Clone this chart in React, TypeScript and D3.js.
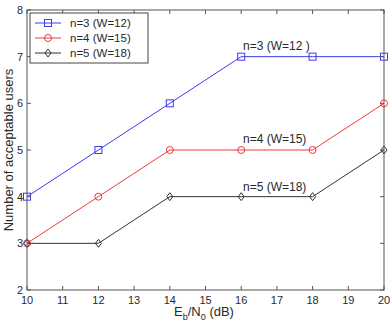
import React, { useEffect, useRef } from 'react';
import * as d3 from 'd3';

// Eb/N0 in dB, and the number of users each code supports
const snr = [10, 12, 14, 16, 18, 20];
const usersN3 = [4, 5, 6, 7, 7, 7];
const usersN4 = [3, 4, 5, 5, 5, 6];
const usersN5 = [3, 3, 4, 4, 4, 5];
const seriesNames = ['n=3 (W=12)', 'n=4 (W=15)', 'n=5 (W=18)'];
const inlineLabels = ['n=3 (W=12 )', 'n=4 (W=15)', 'n=5 (W=18)'];
const xTicks = [10, 11, 12, 13, 14, 15, 16, 17, 18, 19, 20];
const yTicks = [2, 3, 4, 5, 6, 7, 8];

const W = 392;
const H = 325;
const margin = { top: 10, right: 8, bottom: 35, left: 27 };

const seriesStyles = [
  { color: '#3a3af0', marker: 'square' },
  { color: '#f03a3a', marker: 'circle' },
  { color: '#333333', marker: 'diamond' },
];

const App: React.FC = () => {
  const svgRef = useRef<SVGSVGElement | null>(null);

  useEffect(() => {
    const svg = d3.select(svgRef.current);
    svg.selectAll('*').remove();

    const x = d3.scaleLinear().domain([10, 20]).range([margin.left, W - margin.right]);
    const y = d3.scaleLinear().domain([2, 8]).range([H - margin.bottom, margin.top]);
    const font = 'Liberation Sans, Arial, sans-serif';
    const textColor = '#2a2a2a';

    svg.append('rect').attr('width', W).attr('height', H).attr('fill', '#fff');

    const series = [usersN3, usersN4, usersN5];

    const drawMarker = (g: d3.Selection<SVGGElement, unknown, null, undefined>, kind: string, cx: number, cy: number, color: string) => {
      if (kind === 'square') {
        g.append('rect').attr('x', cx - 3.5).attr('y', cy - 3.5).attr('width', 7).attr('height', 7)
          .attr('fill', 'none').attr('stroke', color).attr('stroke-width', 1);
      } else if (kind === 'circle') {
        g.append('circle').attr('cx', cx).attr('cy', cy).attr('r', 3.5)
          .attr('fill', 'none').attr('stroke', color).attr('stroke-width', 1);
      } else {
        g.append('path')
          .attr('d', `M${cx},${cy - 4}L${cx + 3},${cy}L${cx},${cy + 4}L${cx - 3},${cy}Z`)
          .attr('fill', 'none').attr('stroke', color).attr('stroke-width', 1);
      }
    };

    // data lines and markers
    series.forEach((vals, si) => {
      const st = seriesStyles[si];
      const line = d3.line<number>().x((_, i) => x(snr[i])).y(d => y(d));
      svg.append('path').datum(vals).attr('d', line).attr('fill', 'none')
        .attr('stroke', st.color).attr('stroke-width', 1);
      const g = svg.append('g');
      vals.forEach((v, i) => drawMarker(g, st.marker, x(snr[i]), y(v), st.color));
    });

    // axes box with inward ticks
    const axisColor = '#555';
    svg.append('rect')
      .attr('x', margin.left).attr('y', margin.top)
      .attr('width', W - margin.left - margin.right).attr('height', H - margin.top - margin.bottom)
      .attr('fill', 'none').attr('stroke', axisColor).attr('stroke-width', 1);

    const tickLen = 4;
    xTicks.forEach(t => {
      const px = x(t);
      svg.append('line').attr('x1', px).attr('x2', px).attr('y1', y(2)).attr('y2', y(2) - tickLen).attr('stroke', axisColor);
      svg.append('line').attr('x1', px).attr('x2', px).attr('y1', y(8)).attr('y2', y(8) + tickLen).attr('stroke', axisColor);
      svg.append('text').attr('x', px).attr('y', y(2) + 14).attr('text-anchor', 'middle')
        .attr('font-family', font).attr('font-size', 11).attr('fill', textColor).text(t);
    });
    yTicks.forEach(t => {
      const py = y(t);
      svg.append('line').attr('x1', x(10)).attr('x2', x(10) + tickLen).attr('y1', py).attr('y2', py).attr('stroke', axisColor);
      svg.append('line').attr('x1', x(20)).attr('x2', x(20) - tickLen).attr('y1', py).attr('y2', py).attr('stroke', axisColor);
      svg.append('text').attr('x', x(10) - 4).attr('y', py + 4).attr('text-anchor', 'end')
        .attr('font-family', font).attr('font-size', 11).attr('fill', textColor).text(t);
    });

    // axis titles
    const xt = svg.append('text').attr('x', 204).attr('y', 316).attr('text-anchor', 'middle')
      .attr('font-family', font).attr('font-size', 13).attr('fill', textColor);
    xt.append('tspan').text('E');
    xt.append('tspan').attr('dy', 4).attr('font-size', 9).text('b');
    xt.append('tspan').attr('dy', -4).text('/N');
    xt.append('tspan').attr('dy', 4).attr('font-size', 9).text('0');
    xt.append('tspan').attr('dy', -4).text(' (dB)');

    svg.append('text')
      .attr('transform', `translate(13, ${(y(2) + y(8)) / 2}) rotate(-90)`)
      .attr('text-anchor', 'middle')
      .attr('font-family', font).attr('font-size', 13).attr('fill', textColor)
      .text('Number of acceptable users');

    // inline curve labels
    const labelX = 243;
    const labelYs = [50, 143, 191];
    inlineLabels.forEach((lab, i) => {
      svg.append('text').attr('x', labelX).attr('y', labelYs[i])
        .attr('font-family', font).attr('font-size', 12).attr('fill', textColor).text(lab);
    });

    // legend
    const lg = svg.append('g');
    lg.append('rect').attr('x', 30).attr('y', 13).attr('width', 118).attr('height', 50)
      .attr('fill', '#fff').attr('stroke', '#444').attr('stroke-width', 1);
    seriesNames.forEach((name, i) => {
      const ly = 23 + i * 15;
      const st = seriesStyles[i];
      lg.append('line').attr('x1', 35).attr('x2', 61).attr('y1', ly).attr('y2', ly)
        .attr('stroke', st.color).attr('stroke-width', 1);
      drawMarker(lg, st.marker, 48, ly, st.color);
      lg.append('text').attr('x', 70).attr('y', ly + 4)
        .attr('font-family', font).attr('font-size', 11.5).attr('fill', textColor).text(name);
    });
  }, []);

  return (
    <svg ref={svgRef} width={W} height={H} style={{ position: 'absolute', left: 0, top: 0 }} />
  );
};

export default App;
